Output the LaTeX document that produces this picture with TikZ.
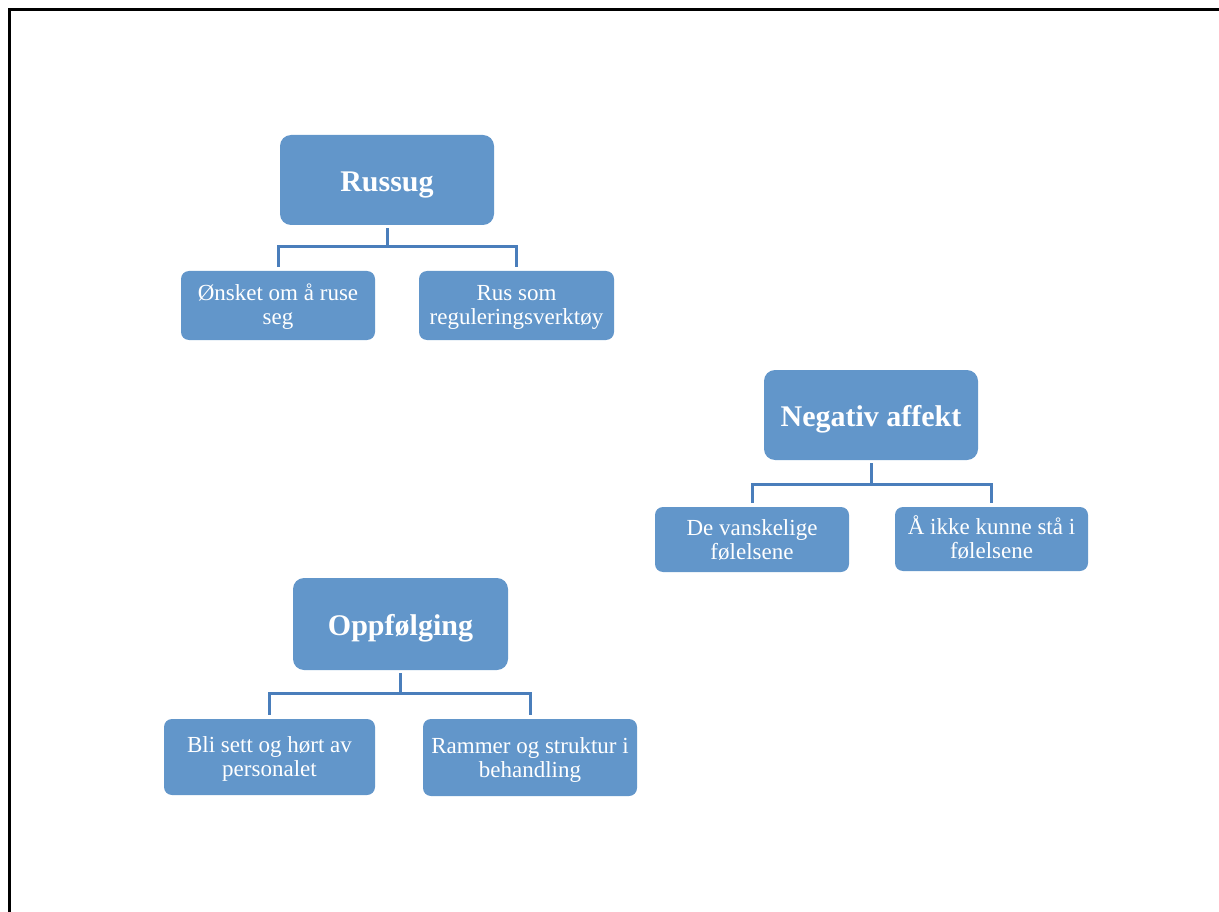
\documentclass[tikz,border=0pt]{standalone}
\usepackage{fontspec}
\setmainfont{Liberation Serif}
\definecolor{boxfill}{RGB}{98,150,202}
\definecolor{linec}{RGB}{74,126,187}
\newcommand\twolines[1]{\begin{tabular}[t]{@{}c@{}}#1\end{tabular}}
\begin{document}
\begin{tikzpicture}[x=1pt,y=-1pt,
  topbox/.style={draw=none,fill=boxfill,rounded corners=11pt,text=white,font=\fontsize{30}{34}\selectfont\bfseries,align=center,text height=30pt,text depth=6.5pt},
  subbox/.style={draw=none,fill=boxfill,rounded corners=8pt,text=white,font=\fontsize{23}{24}\selectfont,inner sep=2pt,text height=22pt,text depth=31pt},
  conn/.style={draw=linec,line width=3pt}]
\useasboundingbox (0,0) rectangle (1219,912);
\draw[line width=3pt,black] (9.5,930) -- (9.5,10) -- (1230,10);
% Russug group
\node[topbox,minimum width=214pt,minimum height=90pt] (russ) at (387,180) {Russug};
\node[subbox,minimum width=194pt,minimum height=69pt] (r1) at (278,305.5) {\twolines{Ønsket om å ruse\\seg}};
\node[subbox,minimum width=195pt,minimum height=69pt] (r2) at (516.5,305.5) {\twolines{Rus som\\reguleringsverktøy}};
\coordinate (rj) at (387,247);
\draw[conn] (russ.south) ++(0,3) -- (rj);
\draw[conn] ([yshift=4pt]r1.north) |- (rj) -| ([yshift=4pt]r2.north);
% Negativ affekt group
\node[topbox,minimum width=214pt,minimum height=90pt] (neg) at (871,415) {Negativ affekt};
\node[subbox,minimum width=194pt,minimum height=65pt] (n1) at (752,539.5) {\twolines{De vanskelige\\følelsene}};
\node[subbox,minimum width=193pt,minimum height=64pt] (n2) at (991.5,539) {\twolines{Å ikke kunne stå i\\følelsene}};
\coordinate (nj) at (871,484);
\draw[conn] (neg.south) ++(0,3) -- (nj);
\draw[conn] ([yshift=4pt]n1.north) |- (nj) -| ([yshift=4pt]n2.north);
% Oppfolging group
\node[topbox,minimum width=215pt,minimum height=92pt] (opp) at (400.5,624) {Oppfølging};
\node[subbox,minimum width=211pt,minimum height=76pt] (o1) at (269.5,757) {\twolines{Bli sett og hørt av\\personalet}};
\node[subbox,minimum width=214pt,minimum height=77pt] (o2) at (530,757.5) {\twolines{Rammer og struktur i\\behandling}};
\coordinate (oj) at (400.5,693);
\draw[conn] (opp.south) ++(0,3) -- (oj);
\draw[conn] ([yshift=4pt]o1.north) |- (oj) -| ([yshift=4pt]o2.north);
\end{tikzpicture}
\end{document}
